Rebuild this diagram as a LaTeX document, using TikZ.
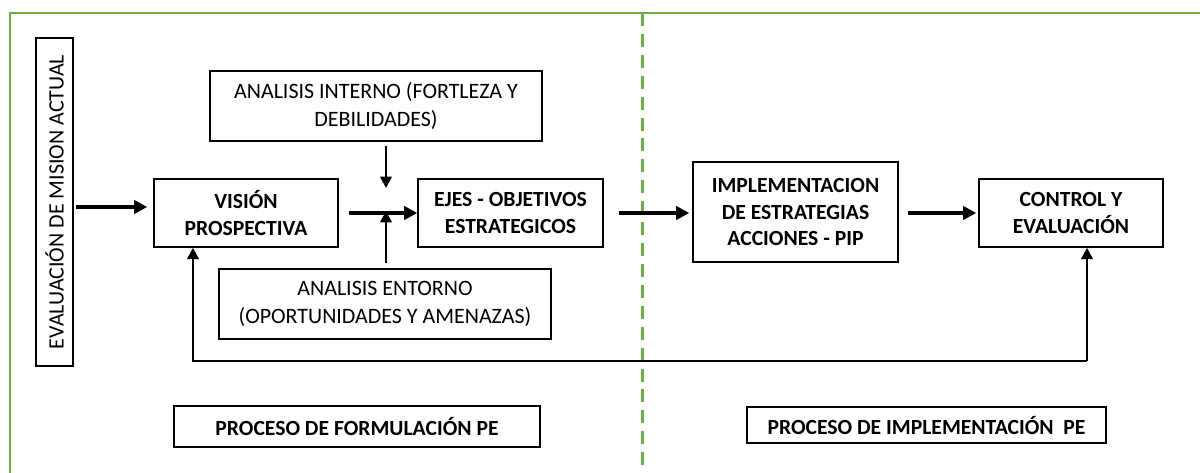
\documentclass[tikz,border=0pt]{standalone}
\usepackage{fontspec}
\setmainfont{Carlito}
\usetikzlibrary{arrows.meta}
\definecolor{verdeborde}{RGB}{112,173,71}

\begin{document}
\begin{tikzpicture}[scale=0.2,
caja/.style={draw=black, line width=0.8pt, align=center, inner sep=0pt, font=\fontsize{12.5}{16}\selectfont},
cajab/.style={caja, font=\fontsize{12.3}{15}\selectfont\bfseries},
flecha/.style={line width=2.2pt, -{Triangle[length=7.5pt,width=7.5pt]}},
flechav/.style={line width=1.5pt, -{Triangle[length=6.5pt,width=6.5pt]}},
borde/.style={draw=verdeborde, line width=1.6pt},
divisor/.style={draw=verdeborde, line width=1.7pt, dash pattern=on 7.4pt off 4.5pt}]
\useasboundingbox (0,0) rectangle (120,-47.3);
\draw [borde] (120,-1.3) -- (1,-1.3) -- (1,-47.3);
\draw [divisor] (64.2,-1.3) -- (64.2,-47.3);
\node [caja, rotate=90, minimum width=6.56cm, minimum height=0.74cm] (evaluacion) at (5.45,-20.2) {EVALUACIÓN DE MISION ACTUAL};
\node [cajab, minimum width=3.68cm, minimum height=1.36cm] (vision) at (24.6,-21.3) {VISIÓN\\PROSPECTIVA};
\node [caja, minimum width=6.64cm, minimum height=1.4cm] (interno) at (37.6,-10.6) {ANALISIS INTERNO (FORTLEZA Y\\DEBILIDADES)};
\node [cajab, minimum width=3.7cm, minimum height=1.36cm] (ejes) at (51.05,-21.3) {EJES - OBJETIVOS\\ESTRATEGICOS};
\node [caja, minimum width=6.64cm, minimum height=1.4cm] (entorno) at (38.5,-30.4) {ANALISIS ENTORNO\\(OPORTUNIDADES Y AMENAZAS)};
\node [cajab, minimum width=4.1cm, minimum height=2cm] (implementacion) at (79.55,-21.2) {IMPLEMENTACION\\DE ESTRATEGIAS\\ACCIONES - PIP};
\node [cajab, minimum width=3.68cm, minimum height=1.36cm] (control) at (107.1,-21.3) {CONTROL Y\\EVALUACIÓN};
\node [cajab, minimum width=7.32cm, minimum height=0.82cm] (formulacion) at (35.7,-42.65) {PROCESO DE FORMULACIÓN PE};
\node [cajab, minimum width=7.18cm, minimum height=0.72cm] (procimpl) at (92.65,-42.5) {PROCESO DE IMPLEMENTACIÓN\ \ PE};
\coordinate (fila) at (0,-20.7);
\coordinate (union) at (38.6,-21.1);
\coordinate (retizq) at (19.3,-36.1);
\coordinate (retder) at (108.7,-36.1);
\draw [flecha, shorten <=0.04cm, shorten >=0.12cm] (evaluacion.south |- fila) -- (vision.west |- fila);
\draw [flecha, shorten <=0.2cm] (vision.east) -- (ejes.west);
\draw [flechav, shorten <=0.08cm, shorten >=0.46cm] (interno.south -| union) -- (union);
\draw [flechav, shorten <=0.1cm] (entorno.north -| union) -- (union);
\draw [flecha, shorten <=0.3cm, shorten >=0.06cm] (ejes.east) -- (ejes.east -| implementacion.west);
\draw [flecha, shorten <=0.18cm, shorten >=0.04cm] (implementacion.east |- control.west) -- (control.west);
\draw [flechav] (retder) -- (retizq) -- (vision.south -| retizq);
\draw [flechav] (retder) -- (control.south -| retder);
\end{tikzpicture}
\end{document}
